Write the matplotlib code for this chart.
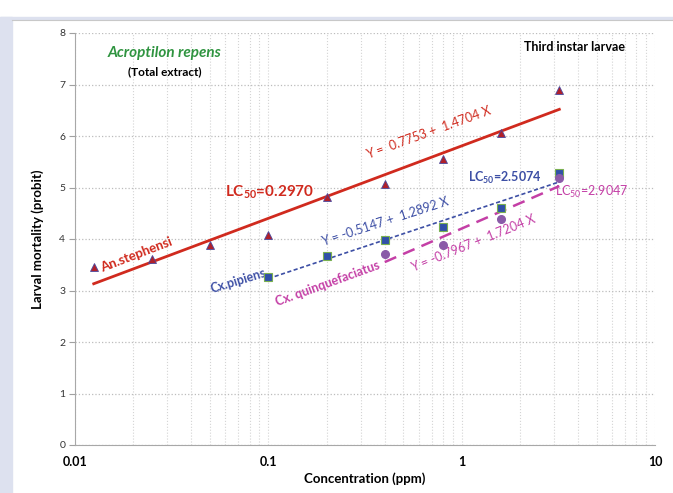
import matplotlib
matplotlib.use('Agg')
import matplotlib.pyplot as plt
import numpy as np
from matplotlib.patches import Rectangle
from matplotlib.ticker import LogLocator, NullFormatter, FixedLocator

plt.rcParams['font.family'] = ['Lato', 'DejaVu Sans']
plt.rcParams['mathtext.fontset'] = 'custom'
plt.rcParams['mathtext.rm'] = 'Lato'
plt.rcParams['mathtext.bf'] = 'Lato:bold'
plt.rcParams['mathtext.it'] = 'Lato:italic'

# concentrations (ppm)
conc = [0.0125, 0.025, 0.05, 0.1, 0.2, 0.4, 0.8, 1.6, 3.2]

# probit mortality
steph_y = [3.46, 3.61, 3.88, 4.08, 4.82, 5.07, 5.55, 6.06, 6.89]
pip_x = [0.1, 0.2, 0.4, 0.8, 1.6, 3.2]
pip_y = [3.26, 3.67, 3.98, 4.23, 4.60, 5.28]
quin_x = [0.4, 0.8, 1.6, 3.2]
quin_y = [3.71, 3.88, 4.39, 5.18]

red = '#d02a1e'
blue = '#3d4fa5'
pink = '#c43fa6'
purple = '#8a5aa8'
green = '#2f9440'

fig = plt.figure(figsize=(6.73, 4.93), dpi=100)
fig.patches.append(Rectangle((0, 0), 12 / 673, 1 - 17 / 493, transform=fig.transFigure,
                             color='#dde1ef', zorder=-5))
fig.patches.append(Rectangle((0, 1 - 19 / 493), 1, 2 / 493, transform=fig.transFigure,
                             color='#dde1ef', zorder=-5))
fig.add_artist(plt.Line2D([12 / 673, 1], [1 - 19.5 / 493] * 2, transform=fig.transFigure,
                          color='#c8c8c8', lw=0.8))

ax = fig.add_axes([75 / 673, 48 / 493, 580 / 673, 412 / 493])
ax.set_xscale('log')
ax.set_xlim(0.01, 10)
ax.set_ylim(0, 8)


def fit_line(x, y):
    lx = np.log10(x)
    b, a = np.polyfit(lx, y, 1)
    xs = np.array([min(x), max(x)])
    return xs, a + b * np.log10(xs)


xs, ys = fit_line(conc, steph_y)
ax.plot(xs, ys, color=red, lw=2, zorder=3)
xs, ys = fit_line(pip_x, pip_y)
ax.plot(xs, ys, color=blue, lw=1.2, ls=(0, (2.5, 1.5)), zorder=3)
xs, ys = fit_line(quin_x, quin_y)
ax.plot(xs, ys, color=pink, lw=1.8, ls=(0, (5, 3)), zorder=3)

ax.plot(conc, steph_y, '^', color='#b0202a', mec='#4a4aa0', mew=0.6, ms=6, ls='none', zorder=4)
ax.plot(pip_x, pip_y, 's', color='#3050a8', mec='#7ab050', mew=0.8, ms=5.5, ls='none', zorder=4)
ax.plot(quin_x, quin_y, 'o', color=purple, mec=purple, ms=5.5, ls='none', zorder=4)

# grid
ax.xaxis.set_major_locator(FixedLocator([0.01, 0.1, 1, 10]))
ax.xaxis.set_minor_locator(LogLocator(base=10, subs=np.arange(2, 10)))
ax.xaxis.set_minor_formatter(NullFormatter())
ax.set_xticklabels(['0.01', '0.1', '1', '10'], fontweight='bold', fontsize=9)
ax.set_yticks(range(0, 9))
ax.grid(True, which='both', axis='x', color='#d4d4d4', ls=':', lw=0.8)
ax.grid(True, which='major', axis='y', color='#bcbcbc', ls=':', lw=0.9)
ax.tick_params(axis='x', which='both', length=0, pad=8)
ax.tick_params(axis='y', length=4, color='#a0a0a0', labelsize=7.5, labelcolor='#333333', pad=3)
for s in ['top', 'right']:
    ax.spines[s].set_visible(False)
for s in ['left', 'bottom']:
    ax.spines[s].set_color('#a8a8a8')

ax.set_xlabel('Concentration (ppm)', fontweight='bold', fontsize=9.5, labelpad=3)
ax.set_ylabel('Larval mortality (probit)', fontweight='bold', fontsize=9.5, labelpad=11)

T = ax.transAxes
ax.text(0.155, 0.951, 'Acroptilon repens', color=green, style='italic', fontweight='bold',
        fontsize=11, ha='center', va='center', transform=T)
ax.text(0.155, 0.905, '(Total extract)', fontweight='bold', fontsize=8.5,
        ha='center', va='center', transform=T)
ax.text(0.862, 0.966, 'Third instar larvae', fontweight='bold', fontsize=9,
        ha='center', va='center', transform=T)

ax.text(0.105, 0.461, 'An.stephensi', color=red, fontweight='bold', fontsize=9.5,
        rotation=21, ha='center', va='center', transform=T, rotation_mode='anchor')
ax.text(0.336, 0.614, r'$\mathbf{LC_{50}}$=0.2970', color=red, fontweight='bold', fontsize=11,
        ha='center', va='center', transform=T)
ax.text(0.609, 0.757, 'Y =  0.7753 +  1.4704 X', color=red, fontsize=9,
        rotation=20, ha='center', va='center', transform=T, rotation_mode='anchor')

ax.text(0.281, 0.398, 'Cx.pipiens', color=blue, fontweight='bold', fontsize=9,
        rotation=17, ha='center', va='center', transform=T, rotation_mode='anchor')
ax.text(0.534, 0.543, 'Y = -0.5147 +  1.2892 X', color=blue, fontsize=9,
        rotation=18, ha='center', va='center', transform=T, rotation_mode='anchor')
ax.text(0.741, 0.648, r'$\mathbf{LC_{50}}$=2.5074', color=blue, fontweight='bold', fontsize=9,
        ha='center', va='center', transform=T)

ax.text(0.436, 0.393, 'Cx. quinquefaciatus', color=pink, fontweight='bold', fontsize=9,
        rotation=20, ha='center', va='center', transform=T, rotation_mode='anchor')
ax.text(0.686, 0.490, 'Y = -0.7967 +  1.7204 X', color=pink, fontsize=9,
        rotation=22, ha='center', va='center', transform=T, rotation_mode='anchor')
ax.text(0.891, 0.614, r'$\mathrm{LC_{50}}$=2.9047', color=pink, fontsize=9,
        ha='center', va='center', transform=T)

fig.savefig('out.png', dpi=100)
